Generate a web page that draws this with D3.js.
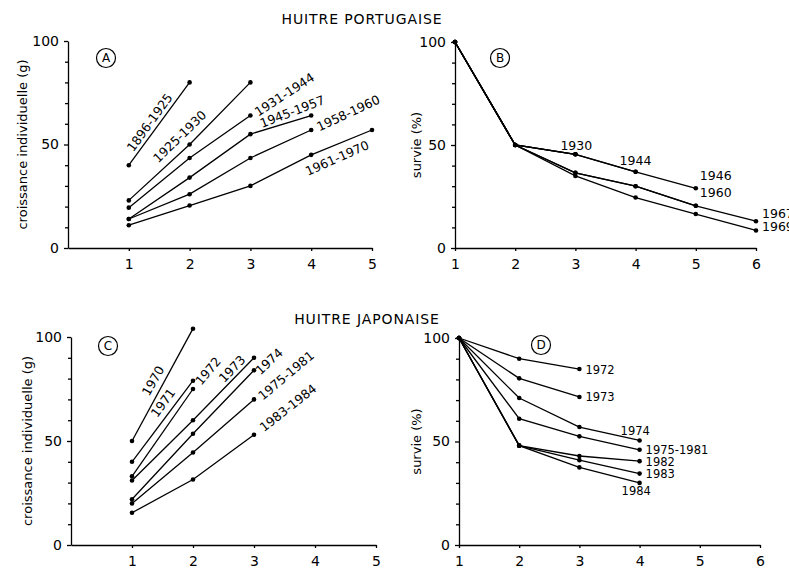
<!DOCTYPE html>
<html>
<head>
<meta charset="utf-8">
<script src="https://cdn.jsdelivr.net/npm/d3@7"></script>
<style>
  body { margin: 0; background: #fff; }
  svg { display: block; font-family: "DejaVu Sans", sans-serif; }
  .axis path, .axis line { stroke: #000; stroke-width: 1.3; }
  .axis text { font-size: 14px; fill: #000; font-family: "DejaVu Sans", sans-serif; }
</style>
</head>
<body>
<svg id="chart" width="789" height="568"></svg>
<script>
// ---- data ----
const agesA    = [1, 2, 3, 4, 5];
const namesA   = ["1896-1925", "1925-1930", "1931-1944", "1945-1957", "1958-1960", "1961-1970"];
const valuesA  = [[40, 80], [23, 50, 80], [19.5, 43.5, 64], [14, 34, 55, 64], [14, 26, 43.5, 57], [11, 20.5, 30, 45, 57]];

const agesB    = [1, 2, 3, 4, 5, 6];
const namesB   = ["1930", "1944", "1946", "1960", "1967", "1969"];
const valuesB  = [[100, 50, 45.5], [100, 50, 45.5, 37], [100, 50, 45.5, 37, 29],
                  [100, 50, 36.5, 30, 20.5], [100, 50, 36.5, 30, 20.5, 13], [100, 50, 35, 24.5, 16.5, 8.5]];

const agesC    = [1, 2, 3, 4, 5];
const namesC   = ["1970", "1971", "1972", "1973", "1974", "1975-1981", "1983-1984"];
const valuesC  = [[50, 104], [40, 79], [33, 75], [31, 60, 90], [22, 53.5, 84], [20, 44.5, 70], [15.5, 31.5, 53]];

const agesD    = [1, 2, 3, 4, 5, 6];
const namesD   = ["1972", "1973", "1974", "1975-1981", "1982", "1983", "1984"];
const valuesD  = [[100, 90, 85], [100, 80.5, 71.5], [100, 71, 57, 50.5], [100, 61, 52.5, 46],
                  [100, 48, 43, 40.5], [100, 48, 41, 34.5], [100, 48, 37.5, 30]];

const yTicks   = [0, 10, 20, 30, 40, 50, 60, 70, 80, 90, 100];
const titles   = ["HUITRE PORTUGAISE", "HUITRE JAPONAISE"];

// ---- label placement: anchor point index, pixel offset, rotation ----
const labelsA = [
  { i: 1, dx: -40, dy: 40, rot: -54 },
  { i: 1, dx: -10, dy: -8, rot: -44 },
  { i: 2, dx: 34, dy: -21, rot: -33 },
  { i: 3, dx: -19, dy: -4, rot: -21 },
  { i: 3, dx: 37, dy: -17, rot: -25 },
  { i: 4, dx: -35, dy: 28, rot: -24 }
];
const labelsB = [
  { i: 2, dx: -15, dy: -9 }, { i: 3, dx: -16, dy: -11 }, { i: 4, dx: 4, dy: -13 },
  { i: 4, dx: 4, dy: -13 }, { i: 5, dx: 6, dy: -8 }, { i: 5, dx: 6, dy: -4 }
];
const labelsC = [
  { i: 1, dx: -40, dy: 52, rot: -60 },
  { i: 1, dx: -30, dy: 22, rot: -54 },
  { i: 1, dx: 15, dy: -18, rot: -50 },
  { i: 2, dx: -22, dy: 11, rot: -46 },
  { i: 2, dx: 15, dy: -9, rot: -43 },
  { i: 2, dx: 32, dy: -24, rot: -40 },
  { i: 2, dx: 34, dy: -27, rot: -38 }
];
const labelsD = [
  { i: 2, dx: 6, dy: 1 }, { i: 2, dx: 6, dy: 0 }, { i: 3, dx: -19, dy: -9 },
  { i: 3, dx: 6, dy: 0 }, { i: 3, dx: 6, dy: 0.5 }, { i: 3, dx: 6, dy: 0 }, { i: 3, dx: -18, dy: 8 }
];

const panels = [
  { tag: "A", ages: agesA, names: namesA, values: valuesA, labels: labelsA, xDom: [0, 5], fs: 12.5,
    left: 68, right: 372, top: 41, bottom: 248, ylab: "croissance individuelle (g)", ylabX: 22, circle: [106, 58] },
  { tag: "B", ages: agesB, names: namesB, values: valuesB, labels: labelsB, xDom: [1, 6], fs: 12.5,
    left: 455, right: 756, top: 42, bottom: 248, ylab: "survie (%)", ylabX: 416, circle: [500, 58] },
  { tag: "C", ages: agesC, names: namesC, values: valuesC, labels: labelsC, xDom: [0, 5], fs: 12.5,
    left: 71, right: 376, top: 337, bottom: 545, ylab: "croissance individuelle (g)", ylabX: 27, circle: [108, 346] },
  { tag: "D", ages: agesD, names: namesD, values: valuesD, labels: labelsD, xDom: [1, 6], fs: 11.5,
    left: 459, right: 760, top: 338, bottom: 545, ylab: "survie (%)", ylabX: 416, circle: [541, 345] }
];

const svg = d3.select("#chart");

// titles
svg.append("text").attr("x", 362).attr("y", 24).attr("text-anchor", "middle")
  .attr("font-size", 14).attr("letter-spacing", 0.9).text(titles[0]);
svg.append("text").attr("x", 367).attr("y", 324).attr("text-anchor", "middle")
  .attr("font-size", 14).attr("letter-spacing", 0.9).text(titles[1]);

panels.forEach(p => {
  const x = d3.scaleLinear().domain(p.xDom).range([p.left, p.right]);
  const y = d3.scaleLinear().domain([0, 100]).range([p.bottom, p.top]);
  const g = svg.append("g");

  // axes
  const yAxis = g.append("g").attr("class", "axis")
    .attr("transform", `translate(${p.left},0)`)
    .call(d3.axisLeft(y).tickValues(yTicks).tickSize(3).tickSizeOuter(0).tickPadding(6)
      .tickFormat(d => d % 50 === 0 ? d : ""));
  yAxis.selectAll(".tick").filter(d => d % 50 === 0).select("line").attr("x2", -4);

  g.append("g").attr("class", "axis")
    .attr("transform", `translate(0,${p.bottom})`)
    .call(d3.axisBottom(x).tickValues(p.ages).tickSize(3).tickSizeOuter(0).tickPadding(8)
      .tickFormat(d3.format("d")));

  // y label
  svg.append("text")
    .attr("transform", `translate(${p.ylabX},${(p.top + p.bottom) / 2}) rotate(-90)`)
    .attr("text-anchor", "middle").attr("dominant-baseline", "central")
    .attr("font-size", 13).text(p.ylab);

  // circled letter
  g.append("circle").attr("cx", p.circle[0]).attr("cy", p.circle[1]).attr("r", 9.5)
    .attr("fill", "none").attr("stroke", "#000").attr("stroke-width", 1.2);
  g.append("text").attr("x", p.circle[0]).attr("y", p.circle[1]).attr("text-anchor", "middle")
    .attr("dominant-baseline", "central").attr("font-size", 12).text(p.tag);

  const line = d3.line().x((d, i) => x(p.ages[i])).y(d => y(d));

  p.values.forEach((vals, k) => {
    g.append("path").attr("d", line(vals)).attr("fill", "none")
      .attr("stroke", "#000").attr("stroke-width", 1.3);
    g.selectAll(null).data(vals).enter().append("circle")
      .attr("cx", (d, i) => x(p.ages[i])).attr("cy", d => y(d)).attr("r", 2.3).attr("fill", "#000");

    const lb = p.labels[k];
    const ax = x(p.ages[lb.i]) + lb.dx;
    const ay = y(vals[lb.i]) + lb.dy;
    const t = g.append("text").attr("font-size", p.fs).attr("dominant-baseline", "central").text(p.names[k]);
    if (lb.rot !== undefined) {
      t.attr("transform", `translate(${ax},${ay}) rotate(${lb.rot})`).attr("text-anchor", "middle");
    } else {
      t.attr("x", ax).attr("y", ay).attr("text-anchor", "start");
    }
  });
});
</script>
</body>
</html>
